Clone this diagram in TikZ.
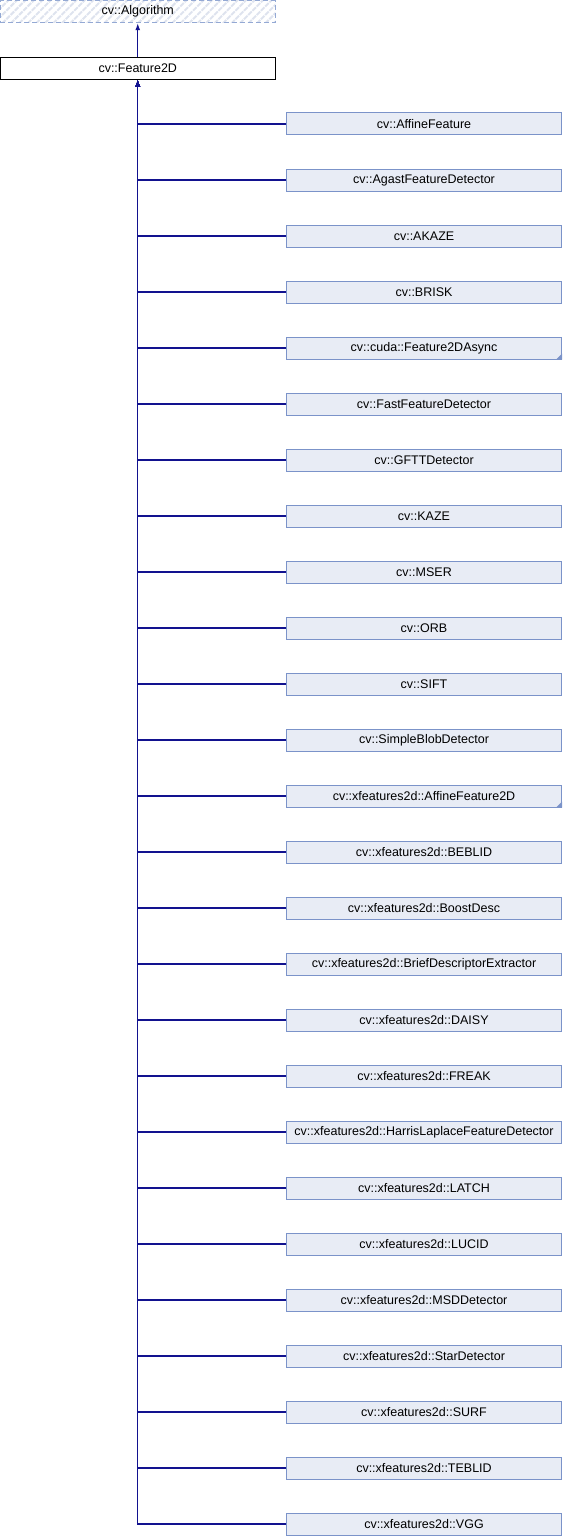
\documentclass[tikz,border=0pt]{standalone}
\usepackage{fontspec}
\setmainfont{Liberation Sans}
\usetikzlibrary{arrows.meta,patterns.meta}
\definecolor{boxfill}{HTML}{E8ECF5}
\definecolor{boxline}{HTML}{7B93C9}
\definecolor{edgecol}{HTML}{12128F}
\definecolor{hatchcol}{HTML}{DEE3EE}
\definecolor{dashline}{HTML}{94A9D4}
\tikzset{
  clsfont/.style={font=\fontsize{12.5}{14}\selectfont},
  cls/.style={draw=boxline, fill=boxfill, line width=1pt, rectangle,
    minimum width=275pt, minimum height=22pt, inner sep=0pt, clsfont},
  curcls/.style={draw=black, fill=white, line width=1pt, rectangle,
    minimum width=275pt, minimum height=22pt, inner sep=0pt, clsfont},
  extcls/.style={draw=dashline, dash pattern=on 5pt off 3pt,
    pattern={Lines[angle=45,distance=6pt,line width=2pt]}, pattern color=hatchcol,
    line width=1pt, rectangle,
    minimum width=275pt, minimum height=22pt, inner sep=0pt, clsfont},
  inherit/.style={draw=edgecol, line width=1.1pt, -{Latex[length=7pt,width=5pt]}},
  more/.style={fill=boxline, draw=none}
}
\begin{document}
\begin{tikzpicture}[x=1pt,y=-1pt]
\useasboundingbox (0,0) rectangle (562,1536);
% base classes
\node[extcls] (algo) at (137.75,11.75) {cv::Algorithm};
\node[curcls] (f2d) at (137.75,68.5) {cv::Feature2D};
\draw[inherit] (f2d.north) -- (algo.south);
% derived classes
\foreach \name [count=\i from 0] in {
  cv::AffineFeature,
  cv::AgastFeatureDetector,
  cv::AKAZE,
  cv::BRISK,
  cv::cuda::Feature2DAsync,
  cv::FastFeatureDetector,
  cv::GFTTDetector,
  cv::KAZE,
  cv::MSER,
  cv::ORB,
  cv::SIFT,
  cv::SimpleBlobDetector,
  cv::xfeatures2d::AffineFeature2D,
  cv::xfeatures2d::BEBLID,
  cv::xfeatures2d::BoostDesc,
  cv::xfeatures2d::BriefDescriptorExtractor,
  cv::xfeatures2d::DAISY,
  cv::xfeatures2d::FREAK,
  cv::xfeatures2d::HarrisLaplaceFeatureDetector,
  cv::xfeatures2d::LATCH,
  cv::xfeatures2d::LUCID,
  cv::xfeatures2d::MSDDetector,
  cv::xfeatures2d::StarDetector,
  cv::xfeatures2d::SURF,
  cv::xfeatures2d::TEBLID,
  cv::xfeatures2d::VGG}{
  \node[cls] (c\i) at (424,124+56*\i) {\name};
  \draw[inherit] (c\i.west) -| (f2d.south);
}
% markers for classes with further subclasses
\foreach \k in {4,12}{
  \fill[more] (c\k.south east) -- ++(0,-6) -- ++(-6,6) -- cycle;
}
\end{tikzpicture}
\end{document}
